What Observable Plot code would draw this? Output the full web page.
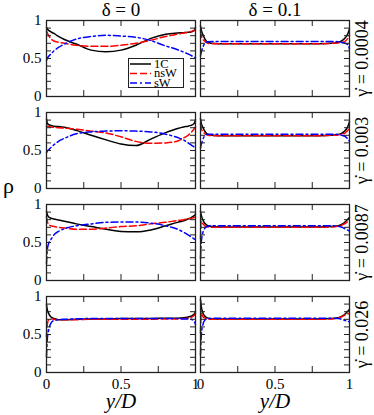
<!DOCTYPE html>
<html><head><meta charset="utf-8">
<script src="https://cdn.jsdelivr.net/npm/d3@7"></script>
<script src="https://cdn.jsdelivr.net/npm/@observablehq/plot@0.6"></script>
<style>
body{margin:0;background:#fff;}
#wrap{position:relative;width:374px;height:415px;font-family:"Liberation Serif","DejaVu Serif",serif;}
#overlay{position:absolute;left:0;top:0;pointer-events:none;}
</style></head><body><div id="wrap"></div>
<script>
// shared sampling positions y/D
const xs = [0, 0.005, 0.015, 0.03, 0.05, 0.08, 0.12, 0.2, 0.3, 0.4, 0.5, 0.6, 0.7, 0.8, 0.88, 0.92, 0.95, 0.97, 0.985, 0.995, 1];
const deltas = [0, 0.1];
const deltaLabels = ["δ = 0", "δ = 0.1"];
const gammas = [0.0004, 0.003, 0.0087, 0.026];
const gammaLabels = ["0.0004", "0.003", "0.0087", "0.026"];
const seriesNames = ["1C", "nsW", "sW"];
const xTickVals = [0, 0.25, 0.5, 0.75, 1];
const yMajorTicks = [0, 0.5, 1];
const yMinorTicks = [0.1, 0.2, 0.3, 0.4, 0.6, 0.7, 0.8, 0.9];
const xLabelTicks = [0, 0.5, 1];

// delta = 0
const d0_g1_1C  = [0.91, 0.89, 0.87, 0.85, 0.83, 0.79, 0.75, 0.69, 0.61, 0.59, 0.61, 0.675, 0.765, 0.82, 0.835, 0.84, 0.845, 0.85, 0.86, 0.88, 0.91];
const d0_g1_nsW = [0.86, 0.84, 0.80, 0.76, 0.73, 0.715, 0.70, 0.675, 0.66, 0.66, 0.675, 0.70, 0.74, 0.79, 0.82, 0.835, 0.845, 0.855, 0.865, 0.87, 0.875];
const d0_g1_sW  = [0.475, 0.50, 0.53, 0.56, 0.60, 0.645, 0.69, 0.755, 0.79, 0.805, 0.795, 0.78, 0.735, 0.665, 0.615, 0.585, 0.56, 0.54, 0.525, 0.515, 0.51];

const d0_g2_1C  = [0.915, 0.86, 0.84, 0.83, 0.82, 0.815, 0.805, 0.765, 0.70, 0.64, 0.585, 0.565, 0.65, 0.735, 0.79, 0.81, 0.82, 0.83, 0.845, 0.87, 0.905];
const d0_g2_nsW = [0.82, 0.82, 0.815, 0.81, 0.805, 0.80, 0.795, 0.78, 0.755, 0.73, 0.68, 0.62, 0.595, 0.60, 0.625, 0.665, 0.70, 0.735, 0.77, 0.795, 0.81];
const d0_g2_sW  = [0.47, 0.49, 0.51, 0.54, 0.575, 0.62, 0.66, 0.72, 0.745, 0.755, 0.76, 0.755, 0.745, 0.715, 0.67, 0.64, 0.60, 0.575, 0.555, 0.54, 0.53];

const d0_g3_1C  = [0.91, 0.87, 0.835, 0.82, 0.81, 0.795, 0.78, 0.745, 0.71, 0.675, 0.645, 0.64, 0.665, 0.72, 0.765, 0.785, 0.81, 0.825, 0.845, 0.86, 0.875];
const d0_g3_nsW = [0.845, 0.78, 0.735, 0.72, 0.71, 0.70, 0.69, 0.675, 0.675, 0.69, 0.71, 0.72, 0.745, 0.765, 0.79, 0.80, 0.81, 0.815, 0.825, 0.83, 0.835];
const d0_g3_sW  = [0.22, 0.40, 0.49, 0.54, 0.60, 0.645, 0.68, 0.72, 0.745, 0.765, 0.77, 0.77, 0.755, 0.72, 0.675, 0.635, 0.60, 0.575, 0.555, 0.54, 0.53];

const d0_g4_1C  = [0.89, 0.83, 0.775, 0.73, 0.71, 0.695, 0.695, 0.70, 0.705, 0.705, 0.71, 0.71, 0.71, 0.715, 0.715, 0.72, 0.73, 0.74, 0.76, 0.78, 0.805];
const d0_g4_nsW = [0.47, 0.63, 0.695, 0.705, 0.70, 0.695, 0.695, 0.695, 0.70, 0.70, 0.70, 0.70, 0.70, 0.705, 0.705, 0.71, 0.715, 0.725, 0.74, 0.76, 0.775];
const d0_g4_sW  = [0.21, 0.43, 0.56, 0.65, 0.685, 0.695, 0.70, 0.705, 0.71, 0.71, 0.71, 0.71, 0.71, 0.71, 0.71, 0.705, 0.705, 0.70, 0.685, 0.66, 0.63];

// delta = 0.1
const d1_g1_1C  = [0.93, 0.875, 0.82, 0.755, 0.71, 0.70, 0.695, 0.695, 0.695, 0.695, 0.695, 0.695, 0.695, 0.695, 0.70, 0.71, 0.735, 0.77, 0.81, 0.86, 0.89];
const d1_g1_nsW = [0.87, 0.80, 0.755, 0.725, 0.70, 0.695, 0.695, 0.695, 0.695, 0.695, 0.695, 0.695, 0.695, 0.695, 0.70, 0.705, 0.71, 0.725, 0.755, 0.785, 0.80];
const d1_g1_sW  = [0.535, 0.58, 0.645, 0.70, 0.72, 0.725, 0.725, 0.725, 0.725, 0.725, 0.725, 0.725, 0.725, 0.725, 0.725, 0.72, 0.71, 0.70, 0.69, 0.66, 0.62];

const d1_g2_1C  = [0.92, 0.86, 0.81, 0.75, 0.71, 0.70, 0.695, 0.695, 0.695, 0.695, 0.695, 0.695, 0.695, 0.695, 0.70, 0.71, 0.73, 0.76, 0.80, 0.85, 0.88];
const d1_g2_nsW = [0.85, 0.79, 0.75, 0.72, 0.70, 0.695, 0.695, 0.695, 0.695, 0.695, 0.695, 0.695, 0.695, 0.695, 0.70, 0.705, 0.715, 0.73, 0.755, 0.78, 0.79];
const d1_g2_sW  = [0.53, 0.58, 0.64, 0.70, 0.715, 0.715, 0.715, 0.715, 0.715, 0.715, 0.715, 0.715, 0.715, 0.715, 0.715, 0.71, 0.70, 0.685, 0.66, 0.64, 0.62];

const d1_g3_1C  = [0.91, 0.86, 0.80, 0.75, 0.72, 0.71, 0.705, 0.705, 0.705, 0.705, 0.705, 0.705, 0.705, 0.705, 0.71, 0.72, 0.74, 0.77, 0.80, 0.82, 0.83];
const d1_g3_nsW = [0.55, 0.78, 0.75, 0.72, 0.705, 0.70, 0.70, 0.70, 0.70, 0.70, 0.70, 0.70, 0.70, 0.70, 0.705, 0.715, 0.73, 0.75, 0.77, 0.775, 0.78];
const d1_g3_sW  = [0.29, 0.50, 0.62, 0.69, 0.715, 0.72, 0.72, 0.72, 0.72, 0.72, 0.72, 0.72, 0.72, 0.72, 0.72, 0.715, 0.70, 0.68, 0.665, 0.655, 0.645];

const d1_g4_1C  = [0.96, 0.87, 0.79, 0.74, 0.715, 0.705, 0.705, 0.705, 0.705, 0.705, 0.705, 0.705, 0.705, 0.705, 0.71, 0.72, 0.74, 0.77, 0.80, 0.82, 0.83];
const d1_g4_nsW = [0.52, 0.78, 0.74, 0.715, 0.705, 0.70, 0.70, 0.70, 0.70, 0.70, 0.70, 0.70, 0.70, 0.70, 0.705, 0.715, 0.735, 0.755, 0.77, 0.775, 0.78];
const d1_g4_sW  = [0.23, 0.48, 0.62, 0.69, 0.71, 0.715, 0.715, 0.715, 0.715, 0.715, 0.715, 0.715, 0.715, 0.715, 0.715, 0.71, 0.70, 0.685, 0.675, 0.67, 0.67];

const curves = [
  [0, 0.0004, "1C", d0_g1_1C], [0, 0.0004, "nsW", d0_g1_nsW], [0, 0.0004, "sW", d0_g1_sW],
  [0, 0.003, "1C", d0_g2_1C], [0, 0.003, "nsW", d0_g2_nsW], [0, 0.003, "sW", d0_g2_sW],
  [0, 0.0087, "1C", d0_g3_1C], [0, 0.0087, "nsW", d0_g3_nsW], [0, 0.0087, "sW", d0_g3_sW],
  [0, 0.026, "1C", d0_g4_1C], [0, 0.026, "nsW", d0_g4_nsW], [0, 0.026, "sW", d0_g4_sW],
  [0.1, 0.0004, "1C", d1_g1_1C], [0.1, 0.0004, "nsW", d1_g1_nsW], [0.1, 0.0004, "sW", d1_g1_sW],
  [0.1, 0.003, "1C", d1_g2_1C], [0.1, 0.003, "nsW", d1_g2_nsW], [0.1, 0.003, "sW", d1_g2_sW],
  [0.1, 0.0087, "1C", d1_g3_1C], [0.1, 0.0087, "nsW", d1_g3_nsW], [0.1, 0.0087, "sW", d1_g3_sW],
  [0.1, 0.026, "1C", d1_g4_1C], [0.1, 0.026, "nsW", d1_g4_nsW], [0.1, 0.026, "sW", d1_g4_sW]
];
const data = curves.flatMap(([delta, gamma, series, ys]) => xs.map((x, i) => ({delta, gamma, series, x, y: ys[i]})));

const styles = {
  "1C": {stroke: "#000000", strokeDasharray: null},
  "nsW": {stroke: "#ff0000", strokeDasharray: "7,3"},
  "sW": {stroke: "#0000ff", strokeDasharray: "7,3,2,3"}
};
const serif = "Liberation Serif, DejaVu Serif, serif";

const lineMarks = seriesNames.map(s => Plot.line(data.filter(d => d.series === s), {
  x: "x", y: "y", fx: "delta", fy: "gamma",
  stroke: styles[s].stroke, strokeDasharray: styles[s].strokeDasharray,
  strokeWidth: 1.5, curve: "monotone-x"
}));

const allYTicks = [...yMajorTicks, ...yMinorTicks];

const chart = Plot.plot({
  width: 374, height: 415,
  marginLeft: 45, marginRight: 24, marginTop: 20, marginBottom: 43,
  style: {fontFamily: serif, fontSize: "15px", color: "black", background: "white"},
  x: {domain: [0, 1]},
  y: {domain: [0, 1]},
  fx: {domain: deltas, padding: 0.032, axis: null},
  fy: {domain: gammas, padding: 0.174, axis: null},
  marks: [
    ...lineMarks,
    Plot.frame({stroke: "#222", strokeWidth: 1.3}),
    Plot.ruleX(xTickVals, {x: d => d, y1: 0, y2: 0, insetTop: -6, stroke: "#222"}),
    Plot.ruleX(xTickVals, {x: d => d, y1: 1, y2: 1, insetBottom: -6, stroke: "#222"}),
    Plot.ruleY(allYTicks, {y: d => d, x1: 0, x2: 0, insetRight: -5, stroke: "#222"}),
    Plot.ruleY(allYTicks, {y: d => d, x1: 1, x2: 1, insetLeft: -5, stroke: "#222"}),
    Plot.axisY({anchor: "left", ticks: yMajorTicks, tickSize: 0, tickPadding: 5, tickFormat: d => String(d), label: null, fontSize: 15}),
    Plot.axisX({anchor: "bottom", ticks: xLabelTicks, tickSize: 0, tickPadding: 6, tickFormat: d => String(d), label: null, fontSize: 15}),
    Plot.text(deltas, {fx: d => d, fy: () => gammas[0], frameAnchor: "top", dy: -5, lineAnchor: "bottom",
      text: (d, i) => deltaLabels[i], fontSize: 19}),
    Plot.text(gammas, {fx: () => deltas[1], fy: d => d, frameAnchor: "right", dx: 13, rotate: -90,
      lineAnchor: "middle", textAnchor: "middle", text: (d, i) => "γ\u0307 = " + gammaLabels[i], fontSize: 18}),
    Plot.text(deltas, {fx: d => d, fy: () => gammas[gammas.length - 1], frameAnchor: "bottom", dy: 35,
      lineAnchor: "bottom", text: () => "y/D", fontStyle: "italic", fontSize: 21})
  ]
});
// force the serif face on every text element
chart.querySelectorAll("text, g").forEach(t => t.style.setProperty("font-family", "'Liberation Serif', 'DejaVu Serif', serif", "important"));
chart.style.setProperty("font-family", "'Liberation Serif', 'DejaVu Serif', serif", "important");
const wrap = document.getElementById("wrap");
wrap.appendChild(chart);

// overlay: shared y label and legend
const ns = "http://www.w3.org/2000/svg";
const ov = document.createElementNS(ns, "svg");
ov.setAttribute("id", "overlay");
ov.setAttribute("width", 374); ov.setAttribute("height", 415);
let html = `<text x="3" y="193" font-size="22" style="font-family:'Liberation Serif',serif">ρ</text>`;
html += `<rect x="128.5" y="58.5" width="55" height="29" fill="white" stroke="#222" stroke-width="1"/>`;
seriesNames.forEach((s, i) => {
  const yy = 64 + i * 9.5;
  html += `<line x1="130" x2="151" y1="${yy}" y2="${yy}" stroke="${styles[s].stroke}" stroke-width="1.5" ${styles[s].strokeDasharray ? `stroke-dasharray="${styles[s].strokeDasharray}"` : ""}/>`;
  html += `<text x="154" y="${yy + 3.5}" font-size="12.5" style="font-family:'Liberation Serif',serif">${s}</text>`;
});
ov.innerHTML = html;
wrap.appendChild(ov);
</script></body></html>
